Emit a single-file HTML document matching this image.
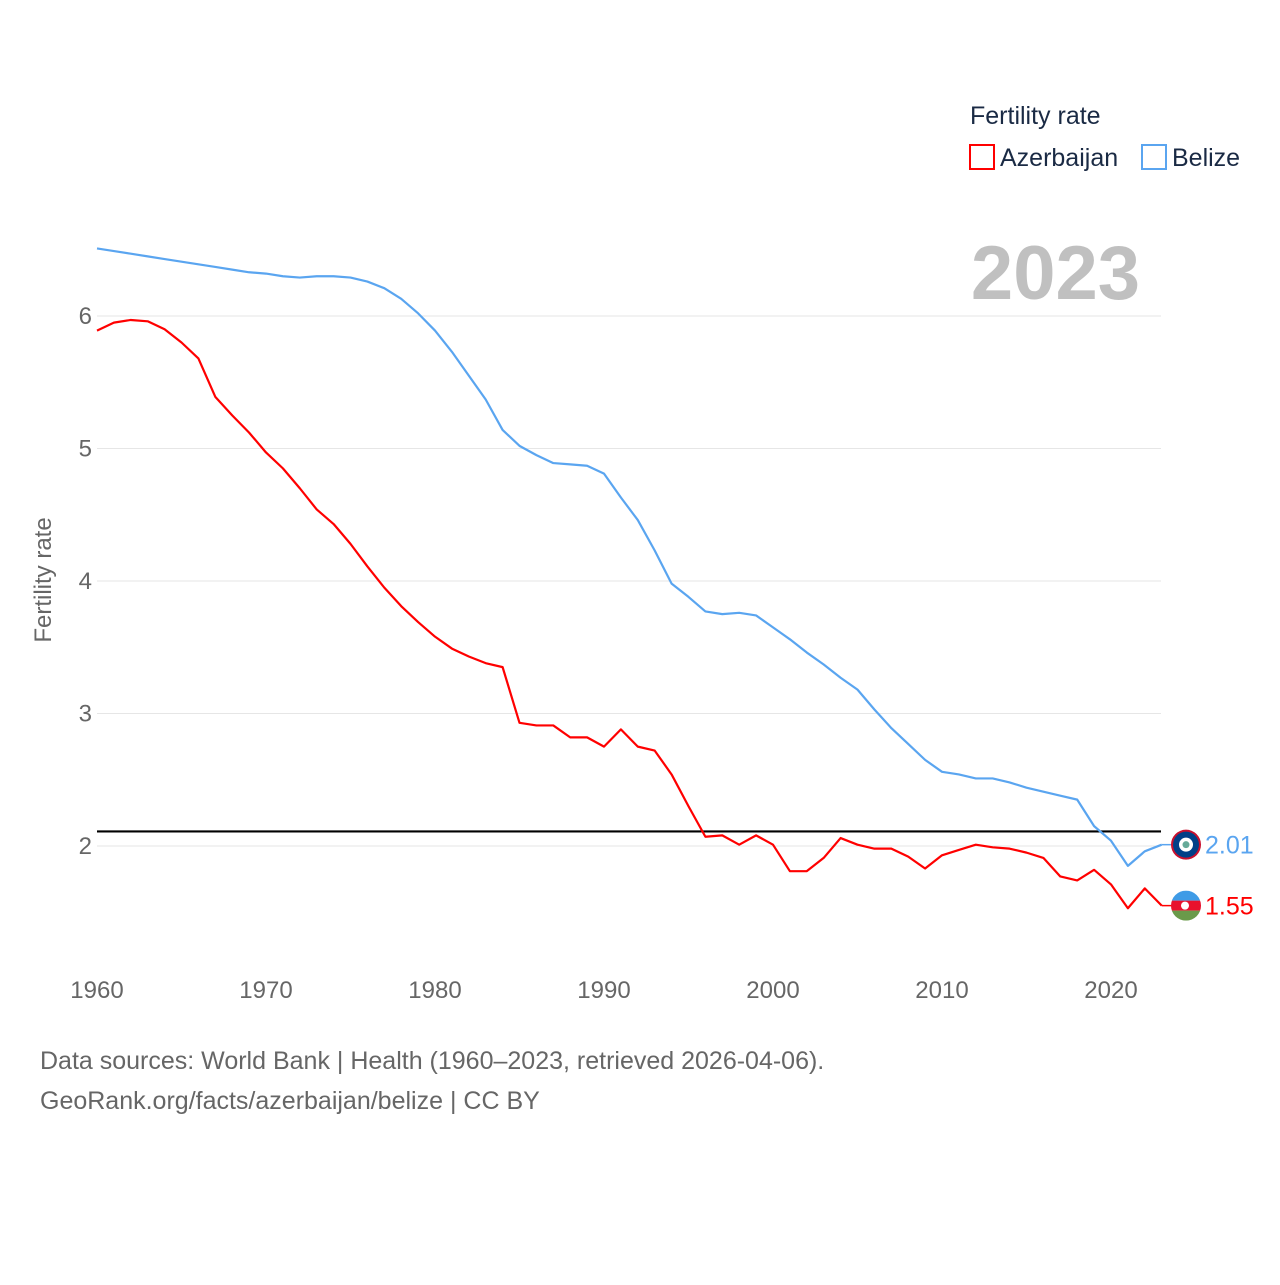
<!DOCTYPE html>
<html><head><meta charset="utf-8"><style>
body{margin:0;background:#fff;font-family:"Liberation Sans",sans-serif}
svg text{font-family:"Liberation Sans",sans-serif}
</style></head><body>
<svg id="chart" width="1280" height="1280" xmlns="http://www.w3.org/2000/svg">
<text x="970" y="124" font-size="25" fill="#1a2a44">Fertility rate</text>
<g><rect x="970" y="145" width="24" height="24" fill="none" stroke="#f00" stroke-width="2"/><text x="1000" y="166" font-size="25" fill="#1a2a44">Azerbaijan</text></g>
<g><rect x="1142" y="145" width="24" height="24" fill="none" stroke="#5aa5f0" stroke-width="2"/><text x="1172" y="166" font-size="25" fill="#1a2a44">Belize</text></g>
<text x="1140" y="299" font-size="76" font-weight="bold" fill="#c0c0c0" text-anchor="end">2023</text>
<text transform="translate(51,580) rotate(-90)" font-size="24" fill="#666" text-anchor="middle">Fertility rate</text>
<g id="grid"></g><g id="xt"></g><g id="lines"></g>
<text x="40" y="1069" font-size="25" fill="#666">Data sources: World Bank | Health (1960–2023, retrieved 2026-04-06).</text>
<text x="40" y="1109" font-size="25" fill="#666">GeoRank.org/facts/azerbaijan/belize | CC BY</text>
</svg>
<script>
const years=[];for(let y=1960;y<=2023;y++)years.push(y);
const yTicks=[2,3,4,5,6];
const xTicks=[1960,1970,1980,1990,2000,2010,2020];
const belize=[6.51,6.49,6.47,6.45,6.43,6.41,6.39,6.37,6.35,6.33,6.32,6.30,6.29,6.30,6.30,6.29,6.26,6.21,6.13,6.02,5.89,5.73,5.55,5.37,5.14,5.02,4.95,4.89,4.88,4.87,4.81,4.63,4.46,4.23,3.98,3.88,3.77,3.75,3.76,3.74,3.65,3.56,3.46,3.37,3.27,3.18,3.03,2.89,2.77,2.65,2.56,2.54,2.51,2.51,2.48,2.44,2.41,2.38,2.35,2.15,2.04,1.85,1.96,2.01];
const azerbaijan=[5.89,5.95,5.97,5.96,5.90,5.80,5.68,5.39,5.25,5.12,4.97,4.85,4.70,4.54,4.43,4.28,4.11,3.95,3.81,3.69,3.58,3.49,3.43,3.38,3.35,2.93,2.91,2.91,2.82,2.82,2.75,2.88,2.75,2.72,2.54,2.30,2.07,2.08,2.01,2.08,2.01,1.81,1.81,1.91,2.06,2.01,1.98,1.98,1.92,1.83,1.93,1.97,2.01,1.99,1.98,1.95,1.91,1.77,1.74,1.82,1.71,1.53,1.68,1.55];
const replacement=2.11;
const NS="http://www.w3.org/2000/svg";
const X=y=>97+(y-1960)*(1111-97)/60;
const Y=v=>846-(v-2)*132.5;
function mk(t,a,p){const e=document.createElementNS(NS,t);for(const k in a)e.setAttribute(k,a[k]);p.appendChild(e);return e;}
const g=document.getElementById('grid'),xt=document.getElementById('xt'),L=document.getElementById('lines');
yTicks.forEach(v=>{const l=mk('line',{x1:97,x2:1161,y1:Y(v),y2:Y(v),stroke:'#e6e6e6'},g);


const t=mk('text',{x:92,y:Y(v)+8,'font-size':24,fill:'#666','text-anchor':'end'},g);t.textContent=v;

});
xTicks.forEach(v=>{const t=mk('text',{x:X(v),y:998,'font-size':24,fill:'#666','text-anchor':'middle'},xt);t.textContent=v;

});
const rl=mk('line',{x1:97,x2:1161,y1:Y(replacement),y2:Y(replacement),stroke:'#000','stroke-width':2.2},L);


function series(d,c,name){const p=mk('polyline',{points:d.map((v,i)=>X(years[i])+','+Y(v)).join(' '),fill:'none',stroke:c,'stroke-width':2.2,'stroke-linejoin':'round'},L);


const last=d[d.length-1],ly=Y(last);
mk('line',{x1:X(2023),x2:1172,y1:ly,y2:ly,stroke:c,'stroke-width':1.5},L);
return ly;}
const by=series(belize,'#5aa5f0','belize');
const ay=series(azerbaijan,'#f00','azerbaijan');
// flags
const fb=mk('g',{},L);


mk('circle',{cx:1186,cy:by,r:15,fill:'#c8102e'},fb);mk('circle',{cx:1186,cy:by,r:13,fill:'#003f87'},fb);
mk('circle',{cx:1186,cy:by,r:7,fill:'#fff'},fb);mk('circle',{cx:1186,cy:by,r:3.5,fill:'#6a9'},fb);
const fa=mk('g',{},L);


mk('clipPath',{id:'ca'},fa);mk('circle',{cx:1186,cy:ay,r:15},fa.lastChild);
const ga=mk('g',{'clip-path':'url(#ca)'},fa);
mk('rect',{x:1171,y:ay-15,width:30,height:10,fill:'#3f9be6'},ga);
mk('rect',{x:1171,y:ay-5,width:30,height:10,fill:'#e8112d'},ga);
mk('rect',{x:1171,y:ay+5,width:30,height:10,fill:'#6a9a4a'},ga);
mk('circle',{cx:1185,cy:ay,r:4,fill:'#fff'},ga);
const tb=mk('text',{x:1205,y:by+9,'font-size':25,fill:'#5aa5f0'},L);tb.textContent=belize[belize.length-1].toFixed(2);


const ta=mk('text',{x:1205,y:ay+9,'font-size':25,fill:'#f00'},L);ta.textContent=azerbaijan[azerbaijan.length-1].toFixed(2);


</script>
</body></html>
